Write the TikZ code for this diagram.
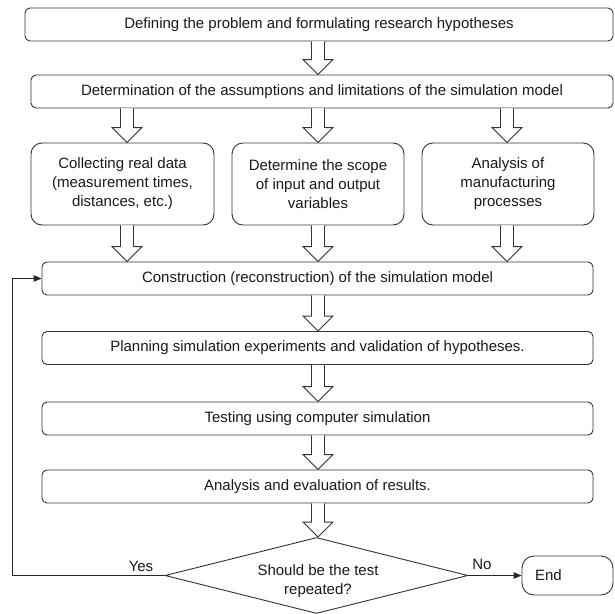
\documentclass[tikz,border=0pt]{standalone}
\usepackage{fontspec}
\setmainfont{Liberation Sans}
\usetikzlibrary{shapes.geometric,arrows.meta,calc}
\newcommand\harrow[2]{\draw[hollow] let \p1=(#1), \p2=(#2) in
  (\x1-6.5pt,\y1) -- (\x1-6.5pt,\y2+15pt) -- (\x1-15pt,\y2+15pt) -- (\x1,\y2)
  -- (\x1+15pt,\y2+15pt) -- (\x1+6.5pt,\y2+15pt) -- (\x1+6.5pt,\y1);}
\begin{document}
\begin{tikzpicture}[x=1pt,y=-1pt,
  font=\fontsize{15}{19}\selectfont,
  box/.style={draw=black!80, line width=0.9pt, rounded corners=5pt,
    minimum height=33pt, inner sep=0pt, text=black!90},
  tall/.style={box, rounded corners=11pt, minimum height=82pt, align=center},
  hollow/.style={draw=black!80, line width=0.9pt, fill=white, line join=miter},
  link/.style={draw=black!85, line width=0.9pt},
  tip/.style={-{Triangle[length=8pt,width=6.5pt]}},
  lbl/.style={text=black!90, inner sep=0pt}]
\useasboundingbox (0,0) rectangle (614,614);

\coordinate (cA) at (127,0);
\coordinate (cM) at (318,0);
\coordinate (cR) at (507,0);

\node[box, minimum width=588pt] (b1) at (319,24.5) {Defining the problem and formulating research hypotheses};
\node[box, minimum width=582pt] (b2) at (322,91.5) {Determination of the assumptions and limitations of the simulation model};
\node[tall, minimum width=183pt] (bA) at (122.5,184) {Collecting real data\\(measurement times,\\distances, etc.)};
\node[tall, minimum width=172pt] (bB) at (318,184) {Determine the scope\\of input and output\\variables};
\node[tall, minimum width=172pt] (bC) at (508,184) {Analysis of\\manufacturing\\processes};
\node[box, minimum width=551pt] (b3) at (317.5,278.5) {Construction (reconstruction) of the simulation model};
\node[box, minimum width=551pt] (b4) at (317.5,348) {Planning simulation experiments and validation of hypotheses.};
\node[box, minimum width=551pt] (b5) at (317.5,418.5) {Testing using computer simulation};
\node[box, minimum width=551pt] (b6) at (317.5,486.5) {Analysis and evaluation of results.};
\node[diamond, draw=black!80, line width=0.9pt, minimum width=303pt, minimum height=76pt, inner sep=0pt] (dec) at (316.5,575.5) {};
\node[lbl, align=center] (dect) at (318,581) {Should be the test\\repeated?};
\node[box, rounded corners=12pt, minimum width=91pt, minimum height=39pt,
  text width=65pt, inner xsep=13pt, align=left] (end) at (567.5,575.5) {End};

\harrow{cM |- b1.south}{cM |- b2.north}
\harrow{cA |- b2.south}{cA |- bA.north}
\harrow{cM |- b2.south}{cM |- bB.north}
\harrow{cR |- b2.south}{cR |- bC.north}
\harrow{cA |- bA.south}{cA |- b3.north}
\harrow{cM |- bB.south}{cM |- b3.north}
\harrow{cR |- bC.south}{cR |- b3.north}
\harrow{cM |- b3.south}{cM |- b4.north}
\harrow{cM |- b4.south}{cM |- b5.north}
\harrow{cM |- b5.south}{cM |- b6.north}
\harrow{cM |- b6.south}{cM |- dec.north}

\coordinate (lp) at (12,575.5);
\draw[link, tip] (dec.west) -- (lp) |- (b3.west);
\draw[link, tip] (dec.east) -- (end.west);

\node[lbl] (yes) at (141,566) {Yes};
\node[lbl] (no) at (482,564) {No};
\end{tikzpicture}
\end{document}
